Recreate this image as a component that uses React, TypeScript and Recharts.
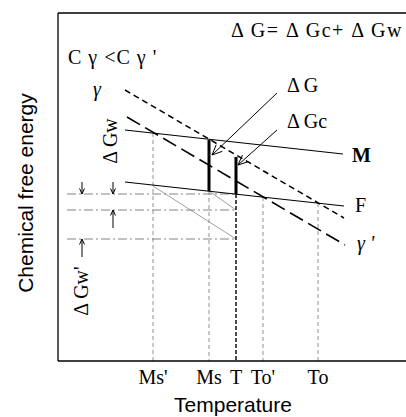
import { LineChart, Line, XAxis, YAxis, ReferenceLine, ReferenceDot } from 'recharts';

// temperature (t) and chemical free energy (g), arbitrary units
const T_TICKS = [95, 151, 178, 205, 260];
const T_NAMES = ["Ms'", 'Ms', 'T', "To'", 'To'];

const M_LINE = [{ t: 67, g: 231 }, { t: 285, g: 207 }];
const F_LINE = [{ t: 67, g: 179 }, { t: 286, g: 155 }];
const GAMMA = [{ t: 67, g: 271 }, { t: 286, g: 143 }];
const GAMMA2 = [{ t: 69, g: 244 }, { t: 287, g: 116 }];

// dashed drops from the curves down to the temperature axis
const DROP_T = [95, 151, 205, 260];
const DROP_TOP = [228, 170, 164, 158];
const T_DROP_TOP = 167;

// the ΔG and ΔGc bars
const BAR_T = [151, 178];
const BAR_TOP = [221, 204];
const BAR_BOTTOM = [170, 167];

// dash-dot energy levels and the construction lines
const LEVELS = [167, 151, 122];
const LEVEL_FROM = 9;
const THIN_FROM = [{ t: 95, g: 175 }, { t: 151, g: 170 }];
const THIN_TO = [{ t: 178, g: 122 }, { t: 178, g: 151 }];

const SERIF = '"Liberation Serif", "DejaVu Serif", serif';
const SANS = '"Liberation Sans", Arial, sans-serif';

function arrow(head: number, width = 1) {
  return (p: any) => {
    const { x1, y1, x2, y2 } = p;
    if (x1 == null) return null;
    const a = Math.atan2(y2 - y1, x2 - x1);
    const s = 0.42;
    const ax = x2 - head * Math.cos(a - s), ay = y2 - head * Math.sin(a - s);
    const bx = x2 - head * Math.cos(a + s), by = y2 - head * Math.sin(a + s);
    return (
      <g stroke="#000" strokeWidth={width} fill="none">
        <line x1={x1} y1={y1} x2={x2} y2={y2} />
        <polyline points={`${ax},${ay} ${x2},${y2} ${bx},${by}`} />
      </g>
    );
  };
}

function note(text: string, o: { anchor?: string; size?: number; family?: string; weight?: string | number; italic?: boolean; rotate?: boolean; spacing?: number } = {}) {
  return (p: any) => {
    if (p.cx == null) return null;
    return (
      <text
        x={p.cx}
        y={p.cy}
        textAnchor={o.anchor || 'start'}
        fontFamily={o.family || SERIF}
        fontSize={o.size || 20}
        fontWeight={o.weight || 'normal'}
        fontStyle={o.italic ? 'italic' : 'normal'}
        letterSpacing={o.spacing || 0}
        fill="#000"
        transform={o.rotate ? `rotate(-90, ${p.cx}, ${p.cy})` : undefined}
      >
        {text}
      </text>
    );
  };
}

function TempTick({ x, y, payload }: any) {
  const i = T_TICKS.indexOf(payload.value);
  return (
    <text x={x} y={y + 23} textAnchor="middle" fontFamily={SERIF} fontSize={20} fill="#000">
      {T_NAMES[i]}
    </text>
  );
}

export default function App() {
  return (
    <div style={{ position: 'absolute', left: 0, top: 0, background: '#fff' }}>
      <LineChart width={406} height={417} margin={{ top: 13, right: 0, bottom: 0, left: 0 }}>
        <XAxis
          type="number"
          dataKey="t"
          domain={[0, 348]}
          ticks={T_TICKS}
          interval={0}
          tick={<TempTick />}
          tickLine={false}
          tickSize={0}
          tickMargin={0}
          height={56}
          axisLine={{ stroke: '#000', strokeWidth: 1.3 }}
          label={{
            content: (p: any) => (
              <text x={p.viewBox.x + 175} y={p.viewBox.y + 51} textAnchor="middle" fontFamily={SANS} fontSize={21} fill="#000">
                Temperature
              </text>
            ),
          }}
        />
        <YAxis
          type="number"
          domain={[0, 348]}
          tick={false}
          tickLine={false}
          width={58}
          axisLine={{ stroke: '#000', strokeWidth: 1.3 }}
          label={{
            content: () => (
              <text x={33} y={193} textAnchor="middle" fontFamily={SANS} fontSize={21} fill="#000" transform="rotate(-90, 33, 193)">
                Chemical free energy
              </text>
            ),
          }}
        />
        <ReferenceLine y={348} stroke="#000" strokeWidth={1.3} />

        {/* construction lines */}
        {LEVELS.map((g, i) => (
          <ReferenceLine key={'lv' + i} segment={[{ x: LEVEL_FROM, y: g }, { x: BAR_T[1], y: g }]} stroke="#666" strokeWidth={0.8} strokeDasharray="9 3 2 3" />
        ))}
        {THIN_FROM.map((p, i) => (
          <ReferenceLine key={'th' + i} segment={[{ x: p.t, y: p.g }, { x: THIN_TO[i].t, y: THIN_TO[i].g }]} stroke="#777" strokeWidth={0.7} />
        ))}
        {DROP_T.map((t, i) => (
          <ReferenceLine key={'dr' + i} segment={[{ x: t, y: DROP_TOP[i] }, { x: t, y: 0 }]} stroke="#777" strokeWidth={0.8} strokeDasharray="4 3" />
        ))}
        <ReferenceLine segment={[{ x: BAR_T[1], y: T_DROP_TOP }, { x: BAR_T[1], y: 0 }]} stroke="#000" strokeWidth={1.4} strokeDasharray="4 2" />

        {/* phase free-energy curves */}
        <Line data={M_LINE} dataKey="g" stroke="#000" strokeWidth={1.2} dot={false} isAnimationActive={false} />
        <Line data={F_LINE} dataKey="g" stroke="#000" strokeWidth={1.2} dot={false} isAnimationActive={false} />
        <Line data={GAMMA} dataKey="g" stroke="#000" strokeWidth={1.5} strokeDasharray="6 4" dot={false} isAnimationActive={false} />
        <Line data={GAMMA2} dataKey="g" stroke="#000" strokeWidth={1.6} strokeDasharray="15 6" dot={false} isAnimationActive={false} />

        {BAR_T.map((t, i) => (
          <ReferenceLine key={'bar' + i} segment={[{ x: t, y: BAR_TOP[i] }, { x: t, y: BAR_BOTTOM[i] }]} stroke="#000" strokeWidth={3} />
        ))}

        {/* arrows */}
        <ReferenceLine segment={[{ x: 219, y: 268 }, { x: 154, y: 206 }]} shape={arrow(11)} />
        <ReferenceLine segment={[{ x: 219, y: 231 }, { x: 180, y: 196 }]} shape={arrow(11)} />
        <ReferenceLine segment={[{ x: 24, y: 179 }, { x: 24, y: 167 }]} shape={arrow(6)} />
        <ReferenceLine segment={[{ x: 55, y: 179 }, { x: 55, y: 167 }]} shape={arrow(6)} />
        <ReferenceLine segment={[{ x: 55, y: 133 }, { x: 55, y: 151 }]} shape={arrow(6)} />
        <ReferenceLine segment={[{ x: 24, y: 104 }, { x: 24, y: 122 }]} shape={arrow(6)} />

        {/* labels */}
        <ReferenceDot x={345} y={324} r={1} shape={note('Δ G= Δ Gc+ Δ Gw', { anchor: 'end', spacing: 1.5 })} />
        <ReferenceDot x={10} y={297} r={1} shape={note('C γ <C γ \'', { spacing: 1 })} />
        <ReferenceDot x={35} y={265} r={1} shape={note('γ', { italic: true })} />
        <ReferenceDot x={229} y={269} r={1} shape={note('Δ G')} />
        <ReferenceDot x={229} y={233} r={1} shape={note('Δ Gc')} />
        <ReferenceDot x={294} y={199} r={1} shape={note('M', { weight: 'bold' })} />
        <ReferenceDot x={297} y={149} r={1} shape={note('F')} />
        <ReferenceDot x={299} y={111} r={1} shape={note("γ '", { italic: true })} />
        <ReferenceDot x={59} y={220} r={1} shape={note('Δ Gw', { anchor: 'middle', rotate: true })} />
        <ReferenceDot x={30} y={70} r={1} shape={note("Δ Gw'", { anchor: 'middle', rotate: true })} />
      </LineChart>
    </div>
  );
}
